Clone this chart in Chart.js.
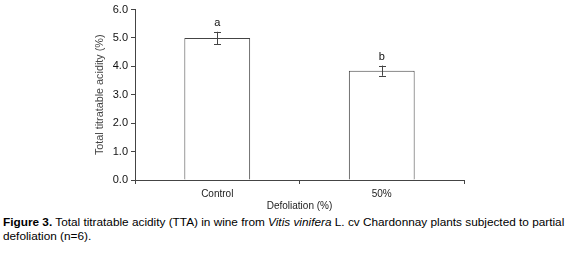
<!DOCTYPE html>
<html>
<head>
<meta charset="utf-8">
<script src="https://cdn.jsdelivr.net/npm/chart.js@4"></script>
<style>
  body { margin: 0; background: #fff; width: 575px; height: 255px; overflow: hidden; position: relative; }
  #ttaChart { position: absolute; left: 0; top: 0; }
  #caption {
    position: absolute; left: 3px; top: 215px;
    font-family: "Liberation Sans", Arial, sans-serif; font-size: 11.8px; line-height: 14px;
    color: #000; white-space: nowrap;
  }
</style>
</head>
<body>
<canvas id="ttaChart" width="575" height="215"></canvas>
<div id="caption"><b>Figure 3.</b> Total titratable acidity (TTA) in wine from <i>Vitis vinifera</i> L. cv Chardonnay plants subjected to partial<br>defoliation (n=6).</div>
<script>
// chart data
const categories = ["Control", "50%"];
const ttaMeans = [5.0, 3.85];   // % TTA
const ttaErrors = [0.22, 0.18]; // error bar half-length
const sigLetters = ["a", "b"];
const yMin = 0, yMax = 6, yStep = 1;

const axisColor = "#444";

// error bars + significance letters drawn on top of the bars
const errorBarPlugin = {
    id: "errorBars",
    afterDatasetsDraw(chart) {
        const ctx = chart.ctx;
        const yScale = chart.scales.y;
        const meta = chart.getDatasetMeta(0);
        ctx.save();
        ctx.strokeStyle = axisColor;
        ctx.lineWidth = 1;
        meta.data.forEach((bar, i) => {
            const x = Math.round(bar.x) + 0.5;
            const top = yScale.getPixelForValue(ttaMeans[i] + ttaErrors[i]);
            const bot = yScale.getPixelForValue(ttaMeans[i] - ttaErrors[i]);
            ctx.beginPath();
            ctx.moveTo(x, top); ctx.lineTo(x, bot);
            ctx.moveTo(x - 3.5, Math.round(top) + 0.5); ctx.lineTo(x + 3.5, Math.round(top) + 0.5);
            ctx.moveTo(x - 3.5, Math.round(bot) + 0.5); ctx.lineTo(x + 3.5, Math.round(bot) + 0.5);
            ctx.stroke();
            ctx.fillStyle = "#111";
            ctx.font = "11px 'Liberation Sans', Arial, sans-serif";
            ctx.textAlign = "center";
            ctx.textBaseline = "middle";
            ctx.fillText(sigLetters[i], bar.x, top - 9);
        });
        ctx.restore();
    }
};

const ctx = document.getElementById("ttaChart").getContext("2d");
const ttaChart = new Chart(ctx, {
    type: "bar",
    data: {
        labels: categories,
        datasets: [{
            label: "TTA",
            data: ttaMeans,
            backgroundColor: "#fff",
            borderColor: axisColor,
            borderWidth: 1,
            barPercentage: 0.4,
            categoryPercentage: 1
        }]
    },
    options: {
        responsive: false,
        animation: false,
        devicePixelRatio: 1,
        layout: { padding: { left: 0, right: 111, top: 6, bottom: 0 } },
        plugins: { legend: { display: false }, tooltip: { enabled: false } },
        scales: {
            x: {
                offset: true,
                grid: { offset: true, drawOnChartArea: false, drawTicks: true, tickLength: 4, color: axisColor },
                border: { display: true, color: axisColor },
                ticks: { color: "#222", padding: 4, font: { family: "'Liberation Sans', Arial", size: 10 } },
                title: {
                    display: true, text: "Defoliation (%)", color: "#222",
                    font: { family: "'Liberation Sans', Arial", size: 10 },
                    padding: { top: 0, bottom: 2.5 }
                },
                afterFit: (scale) => { scale.height = 35; }
            },
            y: {
                min: yMin, max: yMax,
                grid: { drawOnChartArea: false, drawTicks: true, tickLength: 4, color: axisColor },
                border: { display: true, color: axisColor },
                ticks: {
                    stepSize: yStep, color: "#111", padding: 3,
                    font: { family: "'Liberation Sans', Arial", size: 11 },
                    callback: (v) => Number(v).toFixed(1)
                },
                title: {
                    display: true, text: "Total titratable acidity (%)", color: "#444",
                    font: { family: "'Liberation Sans', Arial", size: 10.8 },
                    padding: { top: 94, bottom: 0 }
                },
                afterFit: (scale) => { scale.width = 135; }
            }
        }
    },
    plugins: [errorBarPlugin]
});
</script>
</body>
</html>
